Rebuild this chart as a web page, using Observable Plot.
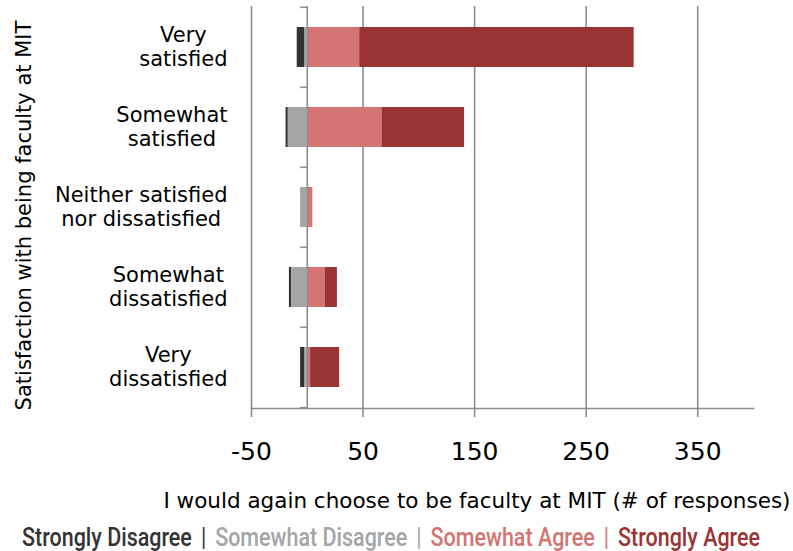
<!DOCTYPE html>
<html>
<head>
<meta charset="utf-8">
<script src="https://cdn.jsdelivr.net/npm/d3@7"></script>
<script src="https://cdn.jsdelivr.net/npm/@observablehq/plot@0.6"></script>
<style>
  html, body { margin: 0; padding: 0; background: #fff; }
  #chart svg { display: block; }
  #legend { padding-left: 22px; padding-top: 4px; font-family: Roboto, "Liberation Sans", sans-serif; font-weight: 500; font-size: 25px; line-height: 35px; white-space: nowrap; height: 35px; }
  #legend .inner { display: inline-block; transform-origin: 0 50%; }
  #legend .sep { margin: 0 0.42em; font-weight: 400; }
</style>
</head>
<body>
<div id="chart"></div>
<div id="legend"><span class="inner" id="legendInner"></span></div>
<script>
// ---- data ----
const categories = ["Very satisfied", "Somewhat satisfied", "Neither satisfied nor dissatisfied", "Somewhat dissatisfied", "Very dissatisfied"];
const categoryLines = [["Very", "satisfied"], ["Somewhat", "satisfied"], ["Neither satisfied", "nor dissatisfied"], ["Somewhat", "dissatisfied"], ["Very", "dissatisfied"]];
const responses = ["Strongly Disagree", "Somewhat Disagree", "Somewhat Agree", "Strongly Agree"];
const stronglyDisagree = [7, 2, 0, 2, 4];
const somewhatDisagree = [2, 17, 6, 14, 2];
const somewhatAgree = [47, 67, 5, 16, 3];
const stronglyAgree = [246, 74, 0, 11, 26];
const xTicks = [-50, 50, 150, 250, 350];
const xDomain = [-50, 400];
const colors = ["#333333", "#a5a5a5", "#d37574", "#993334"];
const xTitle = "I would again choose to be faculty at MIT (# of responses)";
const yTitle = "Satisfaction with being faculty at MIT";

// ---- table ----
const seriesValues = [stronglyDisagree, somewhatDisagree, somewhatAgree, stronglyAgree];
const signs = [-1, -1, 1, 1];
const rows = [];
categories.forEach((c, i) => {
  responses.forEach((r, j) => {
    rows.push({category: c, response: r, value: signs[j] * seriesValues[j][i]});
  });
});

// ---- layout ----
const W = 793, H = 516;
const mTop = 6, mBottom = 108, mLeft = 251, mRight = 40;
const step = (H - mTop - mBottom) / categories.length;
const grid = "#8c8c8c";
const font = "DejaVu Sans";

const ctx = document.createElement("canvas").getContext("2d");
ctx.font = `21px "${font}"`;

const labelMarks = categories.map((c, i) => {
  const w = d3.max(categoryLines[i], s => ctx.measureText(s).width);
  return Plot.text([c], {
    y: d => d,
    text: () => categoryLines[i].join("\n"),
    frameAnchor: "left",
    textAnchor: "middle",
    lineAnchor: "middle",
    lineHeight: 1.14,
    fontSize: 21,
    fill: "#000",
    dx: -(24 + w / 2),
    dy: -1
  });
});

const chart = Plot.plot({
  width: W,
  height: H,
  marginTop: mTop,
  marginBottom: mBottom,
  marginLeft: mLeft,
  marginRight: mRight,
  style: {fontFamily: font, fontSize: "21px", color: "#000", background: "#fff"},
  x: {domain: xDomain, axis: null},
  y: {domain: categories, paddingInner: 0.5, paddingOuter: 0.25, axis: null},
  color: {domain: responses, range: colors},
  marks: [
    Plot.ruleX(xTicks, {stroke: grid, strokeWidth: 1.6}),
    Plot.barX(rows, Plot.stackX({
      x: "value",
      y: "category",
      fill: "response",
      order: ["Somewhat Disagree", "Strongly Disagree", "Somewhat Agree", "Strongly Agree"]
    })),
    Plot.ruleX([0], {stroke: grid, strokeWidth: 1.6}),
    Plot.ruleY(categories, {y: d => d, x1: -6, x2: 0, dy: -step / 2, stroke: grid, strokeWidth: 1.6}),
    Plot.ruleY(categories.slice(-1), {y: d => d, x1: -6, x2: 0, dy: step / 2, stroke: grid, strokeWidth: 1.6}),
    Plot.frame({anchor: "bottom", stroke: grid, strokeWidth: 1.6}),
    Plot.axisX({
      ticks: xTicks,
      tickFormat: d => String(d),
      tickSize: 9,
      tickPadding: 25,
      fontSize: 25,
      stroke: grid,
      strokeWidth: 1.6,
      fill: "#000",
      label: null
    }),
    ...labelMarks,
    Plot.text([yTitle], {
      frameAnchor: "left",
      rotate: -90,
      textAnchor: "middle",
      lineAnchor: "middle",
      fontSize: 21,
      fill: "#000",
      dx: -227,
      dy: 8
    }),
    Plot.text([xTitle], {
      frameAnchor: "bottom-right",
      textAnchor: "end",
      lineAnchor: "middle",
      fontSize: 21.5,
      fill: "#000",
      dx: 37,
      dy: 93
    })
  ]
});
document.getElementById("chart").appendChild(chart);

// ---- legend ----
const inner = document.getElementById("legendInner");
responses.forEach((r, j) => {
  const s = document.createElement("span");
  s.textContent = r;
  s.style.color = colors[j];
  inner.appendChild(s);
  if (j < responses.length - 1) {
    const sep = document.createElement("span");
    sep.className = "sep";
    sep.textContent = "|";
    sep.style.color = colors[j];
    inner.appendChild(sep);
  }
});
const natural = inner.getBoundingClientRect().width;
inner.style.transform = `scaleX(${738 / natural})`;
</script>
</body>
</html>
